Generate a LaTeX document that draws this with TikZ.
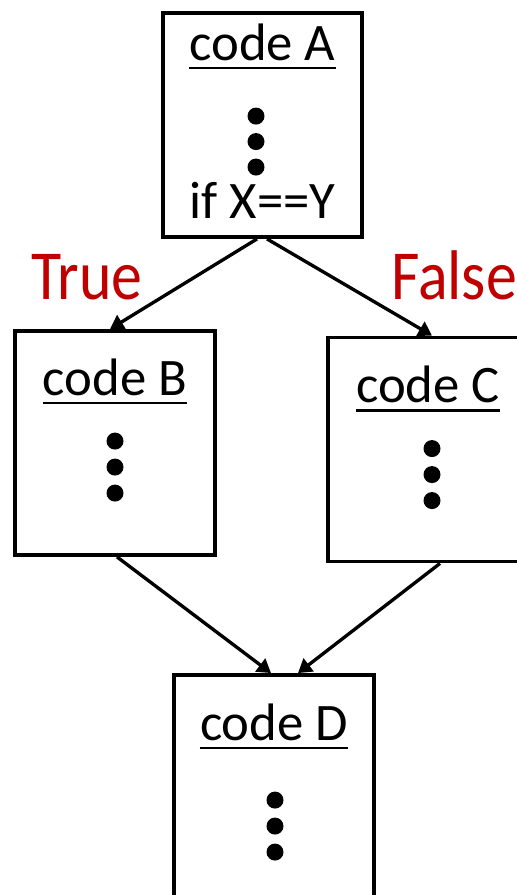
\documentclass[tikz,border=0pt]{standalone}
\usepackage{fontspec}
\setmainfont{Carlito}
\usetikzlibrary{arrows.meta}
\definecolor{branchred}{HTML}{C00000}

\begin{document}
\begin{tikzpicture}[
        codebox/.style={draw, rectangle, line width=2.2pt, minimum width=4cm, minimum height=4.48cm, inner sep=0pt},
        title/.style={anchor=base, inner sep=0pt, font=\fontsize{30}{36}\selectfont},
        uline/.style={line width=1.6pt},
        dot/.style={circle, fill, inner sep=0pt, minimum size=0.34cm},
        branch/.style={anchor=base west, inner sep=0pt, text=branchred, font=\fontsize{40}{48}\selectfont},
        arrow/.style={line width=1.9pt, -{Triangle[length=0.27cm, width=0.32cm]}}
    ]
    \path[use as bounding box, clip] (0,0) rectangle (10.34,-17.9);

    % the four blocks of code
    \node[codebox, minimum width=3.98cm] (a) at (5.25,-2.5) {};
    \node[codebox] (b) at (2.3,-8.86) {};
    \node[codebox] (c) at (8.56,-8.99) {};
    \node[codebox] (d) at (5.48,-15.74) {};

    % headings, underlined
    \node[title] (ta) at ([yshift=-0.98cm]a.north) {code A};
    \node[title] (tb) at ([yshift=-1.32cm]b.north) {code B};
    \node[title] (tc) at ([yshift=-1.34cm]c.north) {code C};
    \node[title] (td) at ([yshift=-1.34cm]d.north) {code D};
    \foreach \t in {ta,tb,tc,td}
        \draw[uline] ([yshift=-0.16cm]\t.base west) -- ([yshift=-0.16cm]\t.base east);
    \node[title] (cond) at ([yshift=-4.14cm]a.north) {if X==Y};

    % dots
    \foreach \i in {1,2,3} {
        \node[dot] (a\i) at ([xshift=-0.13cm, yshift={-2.1cm-(\i-1)*0.51cm}]a.north) {};
        \node[dot] (b\i) at ([yshift={-2.24cm-(\i-1)*0.52cm}]b.north) {};
        \node[dot] (c\i) at ([xshift=0.08cm, yshift={-2.26cm-(\i-1)*0.52cm}]c.north) {};
        \node[dot] (d\i) at ([xshift=0.02cm, yshift={-2.54cm-(\i-1)*0.52cm}]d.north) {};
    }

    % branch labels
    \node[branch] (yes) at (0.62,-5.98) {\scalebox{0.88}[1]{True}};
    \node[branch] (no) at (7.82,-5.98) {\scalebox{0.88}[1]{False}};

    \draw[arrow] ([xshift=-0.11cm]a.south) -- ([xshift=-0.1cm]b.north);
    \draw[arrow] ([xshift=0.09cm]a.south) -- ([xshift=0.08cm]c.north);
    \draw[arrow] ([xshift=0.04cm]b.south) -- ([xshift=-0.06cm]d.north);
    \draw[arrow] ([xshift=0.24cm]c.south) -- ([xshift=0.48cm]d.north);

\end{tikzpicture}
\end{document}
